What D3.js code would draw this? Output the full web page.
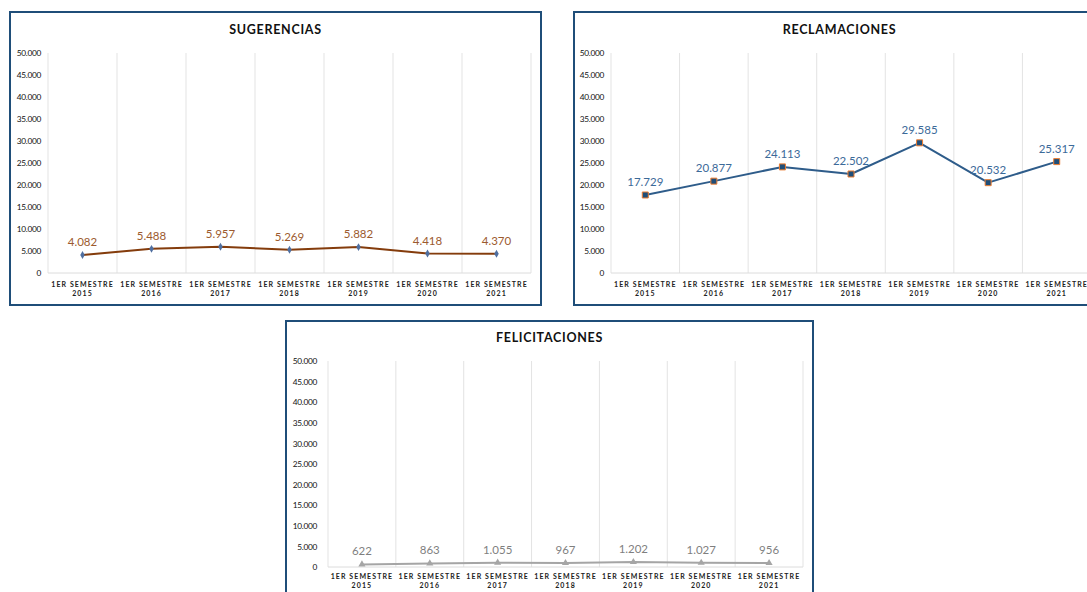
<!DOCTYPE html>
<html>
<head>
<meta charset="utf-8">
<script src="https://cdn.jsdelivr.net/npm/d3@7"></script>
<style>
  html, body { margin: 0; padding: 0; background: #fff; }
  svg { display: block; }
  text { font-family: Lato, "Open Sans", sans-serif; }
</style>
</head>
<body>
<svg id="chart" width="1087" height="592"></svg>
<script>
// Semesters on the x axis
const categories = ["2015", "2016", "2017", "2018", "2019", "2020", "2021"];
const categoryPrefix = "1ER SEMESTRE";

// Y axis ticks (0 to 50.000 every 5.000)
const yTicks = [0, 5000, 10000, 15000, 20000, 25000, 30000, 35000, 40000, 45000, 50000];

// Series values per semester
const sugerencias = [4082, 5488, 5957, 5269, 5882, 4418, 4370];
const reclamaciones = [17729, 20877, 24113, 22502, 29585, 20532, 25317];
const felicitaciones = [622, 863, 1055, 967, 1202, 1027, 956];

const esLocale = d3.formatLocale({ decimal: ",", thousands: ".", grouping: [3], currency: ["", ""] });
const fmt = esLocale.format(",d");

const svg = d3.select("#chart");

// Panel layouts: frame box and plot box
const panels = [
  {
    title: "SUGERENCIAS", values: sugerencias,
    frame: { x: 10, y: 12, w: 531, h: 293 },
    plot: { l: 48, r: 531, top: 53, bottom: 273 }, tickPad: 7,
    titleY: 34, xLab1: 287, xLab2: 296,
    line: "#843C0C", label: "#9C5A2E",
    symbol: d3.symbolDiamond, symSize: 18, symFill: "#4F6FA0", symStroke: "none"
  },
  {
    title: "RECLAMACIONES", values: reclamaciones,
    frame: { x: 574, y: 12, w: 531, h: 293 },
    plot: { l: 611, r: 1091, top: 53, bottom: 273 }, tickPad: 7,
    titleY: 34, xLab1: 287, xLab2: 296,
    line: "#2E5C8A", label: "#3C6A99",
    symbol: d3.symbolSquare, symSize: 36, symFill: "#1F4E79", symStroke: "#ED7D31"
  },
  {
    title: "FELICITACIONES", values: felicitaciones,
    frame: { x: 286, y: 321, w: 527, h: 300 },
    plot: { l: 328, r: 803, top: 361, bottom: 567 }, tickPad: 11,
    titleY: 342, xLab1: 579, xLab2: 588,
    line: "#A5A5A5", label: "#7F7F7F",
    symbol: d3.symbolTriangle, symSize: 22, symFill: "#A5A5A5", symStroke: "none"
  }
];

panels.forEach(p => {
  const g = svg.append("g");

  // frame
  g.append("rect")
    .attr("x", p.frame.x).attr("y", p.frame.y)
    .attr("width", p.frame.w).attr("height", p.frame.h)
    .attr("fill", "#fff").attr("stroke", "#1F4E79").attr("stroke-width", 2);

  // title
  g.append("text")
    .attr("x", p.frame.x + p.frame.w / 2).attr("y", p.titleY)
    .attr("text-anchor", "middle")
    .attr("font-size", 12.5).attr("font-weight", 700)
    .attr("letter-spacing", 0.7)
    .attr("fill", "#111")
    .text(p.title);

  const x = d3.scaleBand().domain(categories).range([p.plot.l, p.plot.r]);
  const y = d3.scaleLinear().domain([0, 50000]).range([p.plot.bottom, p.plot.top]);

  // vertical gridlines at category boundaries
  const bounds = categories.map(c => x(c)).concat([p.plot.r]);
  g.selectAll("line.grid").data(bounds).join("line")
    .attr("class", "grid")
    .attr("x1", d => d).attr("x2", d => d)
    .attr("y1", y(50000)).attr("y2", y(0))
    .attr("stroke", "#E3E3E3").attr("stroke-width", 1);

  // baseline
  g.append("line")
    .attr("x1", p.plot.l).attr("x2", p.plot.r)
    .attr("y1", y(0)).attr("y2", y(0))
    .attr("stroke", "#DCDCDC").attr("stroke-width", 1);

  // y axis
  const yAxis = d3.axisLeft(y).tickValues(yTicks).tickSize(0).tickPadding(p.tickPad)
    .tickFormat(d => d === 0 ? "0" : fmt(d));
  const ya = g.append("g").attr("transform", `translate(${p.plot.l},0)`).call(yAxis);
  ya.select(".domain").remove();
  ya.selectAll("text")
    .attr("font-family", "Lato, sans-serif")
    .attr("font-size", 8.3).attr("fill", "#111")
    .attr("letter-spacing", -0.3);

  // x axis (two-line labels)
  const xAxis = d3.axisBottom(x).tickSize(0).tickFormat("");
  const xa = g.append("g").attr("transform", `translate(0,${y(0)})`).call(xAxis);
  xa.select(".domain").remove();
  const xl = g.append("g");
  categories.forEach(c => {
    const cx = x(c) + x.bandwidth() / 2;
    const t = xl.append("text")
      .attr("text-anchor", "middle")
      .attr("font-size", 7).attr("font-weight", 700)
      .attr("letter-spacing", 1.1)
      .attr("fill", "#222");
    t.append("tspan").attr("x", cx).attr("y", p.xLab1).text(categoryPrefix);
    t.append("tspan").attr("x", cx).attr("y", p.xLab2).text(c);
  });

  const pts = categories.map((c, i) => ({ c, v: p.values[i] }));

  // series line
  g.append("path")
    .datum(pts)
    .attr("fill", "none")
    .attr("stroke", p.line).attr("stroke-width", 2)
    .attr("stroke-linejoin", "round")
    .attr("d", d3.line().x(d => x(d.c) + x.bandwidth() / 2).y(d => y(d.v)));

  // markers
  g.selectAll("path.mk").data(pts).join("path")
    .attr("class", "mk")
    .attr("transform", d => `translate(${x(d.c) + x.bandwidth() / 2},${y(d.v)})`)
    .attr("d", d3.symbol().type(p.symbol).size(p.symSize))
    .attr("fill", p.symFill)
    .attr("stroke", p.symStroke).attr("stroke-width", 1);

  // value labels
  g.selectAll("text.val").data(pts).join("text")
    .attr("class", "val")
    .attr("x", d => x(d.c) + x.bandwidth() / 2)
    .attr("y", d => y(d.v) - 9)
    .attr("text-anchor", "middle")
    .attr("font-size", 11.5)
    .attr("fill", p.label)
    .text(d => fmt(d.v));
});
</script>
</body>
</html>
